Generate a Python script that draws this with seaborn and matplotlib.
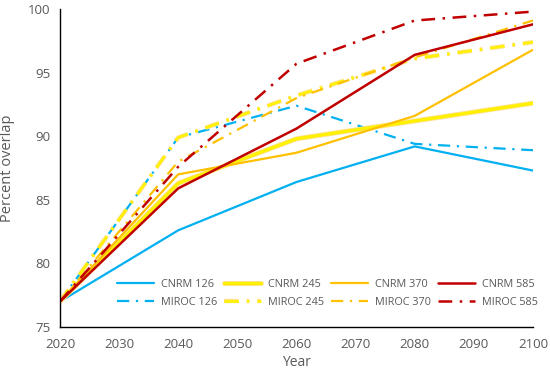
import matplotlib
matplotlib.use("Agg")
import matplotlib.pyplot as plt
import matplotlib.patheffects as pe
import seaborn as sns
import pandas as pd

years = [2020, 2040, 2060, 2080, 2100]
cnrm_126 = [77.0, 82.6, 86.4, 89.2, 87.3]
cnrm_245 = [77.0, 86.3, 89.8, 91.2, 92.6]
cnrm_370 = [77.0, 87.0, 88.7, 91.6, 96.8]
cnrm_585 = [77.0, 85.9, 90.6, 96.4, 98.8]
miroc_126 = [77.0, 89.9, 92.4, 89.4, 88.9]
miroc_245 = [77.0, 89.9, 93.2, 96.1, 97.4]
miroc_370 = [77.0, 88.0, 93.0, 96.2, 99.1]
miroc_585 = [77.0, 87.6, 95.7, 99.1, 99.8]

series = [
    ("CNRM 126", cnrm_126, "#00B0F0", "-", 1.6),
    ("MIROC 126", miroc_126, "#00B0F0", "dd", 1.6),
    ("CNRM 245", cnrm_245, "#FFF200", "-", 2.3),
    ("MIROC 245", miroc_245, "#FFF200", "dd", 1.9),
    ("CNRM 370", cnrm_370, "#FFC000", "-", 1.6),
    ("MIROC 370", miroc_370, "#FFC000", "dd", 1.6),
    ("CNRM 585", cnrm_585, "#C00000", "-", 1.8),
    ("MIROC 585", miroc_585, "#C00000", "dd", 1.8),
]

sns.set_theme(style="white")
plt.rcParams["font.family"] = ["Open Sans", "DejaVu Sans"]

fig = plt.figure(figsize=(5.5, 3.78), dpi=100)
ax = fig.add_axes([0.109, 0.135, 0.86, 0.841])

for name, vals, color, ls, lw in series:
    df = pd.DataFrame({"Year": years, "Percent overlap": vals})
    line_style = "-" if ls == "-" else (0, (5.5, 3, 1, 3))
    sns.lineplot(data=df, x="Year", y="Percent overlap", ax=ax, color=color,
                 linewidth=lw, linestyle=line_style, label=name)
    ln = ax.lines[-1]
    if color == "#FFF200":
        ln.set_path_effects([pe.Stroke(linewidth=lw + 1.2, foreground="#FFE08A"), pe.Normal()])

ax.set_xlim(2020, 2100)
ax.set_ylim(75, 100)
ax.set_xticks(list(range(2020, 2101, 10)))
ax.set_yticks([75, 80, 85, 90, 95, 100])
ax.tick_params(axis="both", labelsize=9.5, colors="#595959", length=0)
ax.tick_params(axis="x", pad=8)
ax.tick_params(axis="y", pad=7)
ax.set_xlabel("Year", fontsize=10, color="#595959", labelpad=3)
ax.set_ylabel("Percent overlap", fontsize=10.5, color="#595959", labelpad=9)
for s in ["top", "right"]:
    ax.spines[s].set_visible(False)
for s in ["left", "bottom"]:
    ax.spines[s].set_color("black")
    ax.spines[s].set_linewidth(1.0)

leg = ax.legend(ncol=4, loc="lower right", bbox_to_anchor=(1.03, 0.03), frameon=False,
                fontsize=7.8, handlelength=3.4, columnspacing=0.7, handletextpad=0.6,
                labelspacing=0.6)
for t in leg.get_texts():
    t.set_color("#595959")

fig.savefig("out.png", dpi=100)
